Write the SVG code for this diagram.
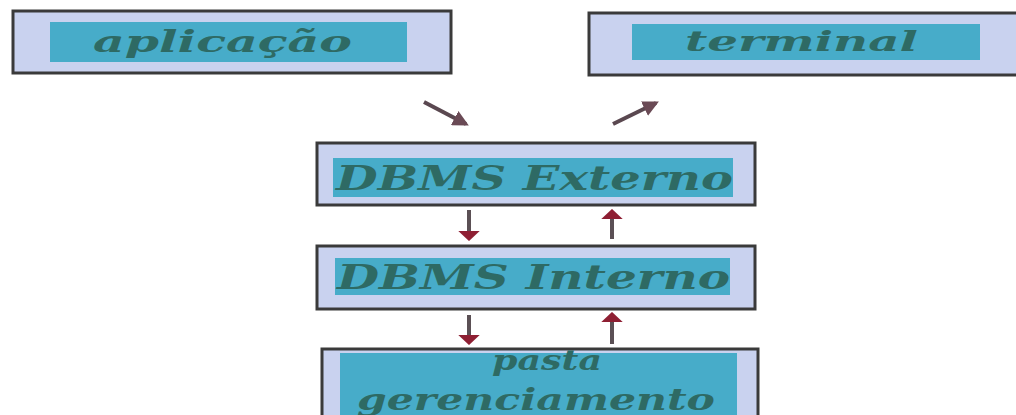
<svg xmlns="http://www.w3.org/2000/svg" width="1016" height="415" viewBox="0 0 1016 415">
<style>
.outer{fill:#c9d2ef;stroke:#3a3a3a;stroke-width:3}
.inner{fill:#47acc9}
.lbl{font-family:"DejaVu Serif","Liberation Serif",serif;font-style:italic;font-weight:bold;fill:#2e6a64;text-anchor:start}
.diag{stroke:#5a4850;stroke-width:4;fill:none}
.vert{stroke:#5b5055;stroke-width:4;fill:none}
</style>
<defs>
<marker id="ahd" viewBox="0 0 10 10" refX="8" refY="5" markerWidth="4" markerHeight="4" orient="auto" markerUnits="strokeWidth">
<path d="M0,0 L10,5 L0,10 z" fill="#6a4a55"/>
</marker>
<marker id="ahv" viewBox="0 0 10 10" refX="8" refY="5" markerWidth="2.6" markerHeight="5.5" orient="auto" markerUnits="strokeWidth" preserveAspectRatio="none">
<path d="M0,0 L10,5 L0,10 z" fill="#8e1f33"/>
</marker>
</defs>
<rect width="1016" height="415" fill="#ffffff"/>
<g id="aplicacao">
<rect class="outer" x="13" y="11" width="438" height="62"/>
<rect class="inner" x="50" y="22" width="357" height="40"/>
<text class="lbl" x="93" y="52" font-size="30" textLength="259" lengthAdjust="spacingAndGlyphs">aplicação</text>
</g>
<g id="terminal">
<rect class="outer" x="589" y="13" width="440" height="62"/>
<rect class="inner" x="632" y="24" width="348" height="36"/>
<text class="lbl" x="685" y="51" font-size="28" textLength="233" lengthAdjust="spacingAndGlyphs">terminal</text>
</g>
<g id="dbms-externo">
<rect class="outer" x="317" y="143" width="438" height="62"/>
<rect class="inner" x="333" y="158" width="400" height="39"/>
<text class="lbl" x="336" y="190" font-size="34" textLength="397" lengthAdjust="spacingAndGlyphs">DBMS Externo</text>
</g>
<g id="dbms-interno">
<rect class="outer" x="317" y="246" width="438" height="63"/>
<rect class="inner" x="335" y="258" width="395" height="37"/>
<text class="lbl" x="337" y="289" font-size="33" textLength="393" lengthAdjust="spacingAndGlyphs">DBMS Interno</text>
</g>
<g id="pasta-gerenciamento">
<rect class="outer" x="322" y="349" width="436" height="70"/>
<rect class="inner" x="340" y="353" width="397" height="62"/>
<text class="lbl" x="492" y="370" font-size="28" textLength="110" lengthAdjust="spacingAndGlyphs">pasta</text>
<text class="lbl" x="357" y="410" font-size="30" textLength="358" lengthAdjust="spacingAndGlyphs">gerenciamento</text>
</g>
<g id="connectors">
<line class="diag" x1="424" y1="102" x2="466" y2="124" marker-end="url(#ahd)"/>
<line class="diag" x1="613" y1="124" x2="656" y2="103" marker-end="url(#ahd)"/>
<line class="vert" x1="469" y1="210" x2="469" y2="239" marker-end="url(#ahv)"/>
<line class="vert" x1="612" y1="239" x2="612" y2="211" marker-end="url(#ahv)"/>
<line class="vert" x1="469" y1="315" x2="469" y2="343" marker-end="url(#ahv)"/>
<line class="vert" x1="612" y1="344" x2="612" y2="314" marker-end="url(#ahv)"/>
</g>
</svg>
